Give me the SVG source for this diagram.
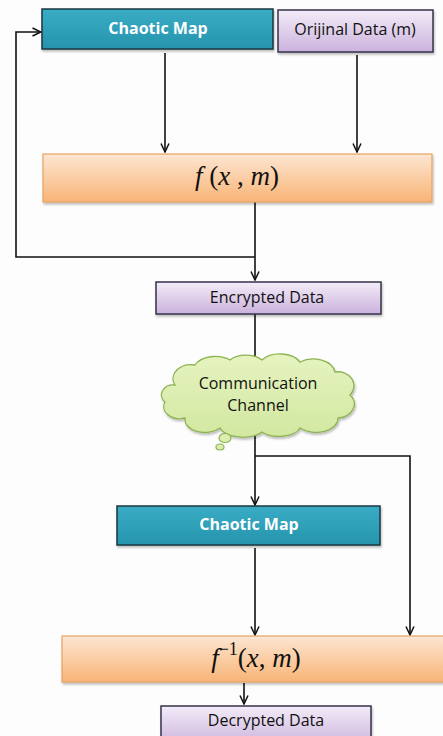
<svg xmlns="http://www.w3.org/2000/svg" width="443" height="736" viewBox="0 0 443 736">
<style>
.lbl{font-family:"Open Sans","Liberation Sans",sans-serif;font-size:16px;text-anchor:middle;dominant-baseline:central;fill:#111}
.w{fill:#fff;font-weight:bold}
.math{font-family:"Liberation Serif","DejaVu Serif",serif;font-size:27px;text-anchor:middle;dominant-baseline:central;fill:#111}
.conn{fill:none;stroke:#111;stroke-width:1.6}
.teal{fill:url(#gTeal);stroke:#1d3640;stroke-width:1.5;filter:url(#sh)}
.lav{fill:url(#gLav);stroke:#35334a;stroke-width:1.5;filter:url(#sh)}
.org{fill:url(#gOrg);stroke:#e5a262;stroke-width:1.2;filter:url(#sh)}
</style>
<defs>
<linearGradient id="gTeal" x1="0" y1="0" x2="0" y2="1"><stop offset="0" stop-color="#3aacc5"/><stop offset="1" stop-color="#2694ad"/></linearGradient>
<linearGradient id="gLav" x1="0" y1="0" x2="0" y2="1"><stop offset="0" stop-color="#f3ecf8"/><stop offset="1" stop-color="#cbb2dd"/></linearGradient>
<linearGradient id="gOrg" x1="0" y1="0" x2="0" y2="1"><stop offset="0" stop-color="#fde6d2"/><stop offset="1" stop-color="#f8b476"/></linearGradient>
<linearGradient id="gCloud" x1="0" y1="0" x2="0" y2="1"><stop offset="0" stop-color="#e6f3c0"/><stop offset="1" stop-color="#d2e8a0"/></linearGradient>
<filter id="sh" x="-5%" y="-20%" width="110%" height="150%"><feDropShadow dx="1" dy="2" stdDeviation="1.2" flood-color="#000" flood-opacity="0.25"/></filter>
<marker id="arr" viewBox="0 0 10 10" refX="9.5" refY="5" markerWidth="10" markerHeight="10" orient="auto" markerUnits="userSpaceOnUse"><path d="M1,1 L9.5,5 L1,9" fill="none" stroke="#111" stroke-width="1.5"/></marker>
</defs>
<rect width="443" height="736" fill="#fdfdfd"/>
<g id="connectors">
<path class="conn" d="M165,53 V152" marker-end="url(#arr)"/>
<path class="conn" d="M357,55 V152" marker-end="url(#arr)"/>
<path class="conn" d="M255,202 V280" marker-end="url(#arr)"/>
<path class="conn" d="M255,257 H16 V32 H41" marker-end="url(#arr)"/>
<path class="conn" d="M255,314 V365"/>
<path class="conn" d="M255,430 V505" marker-end="url(#arr)"/>
<path class="conn" d="M255,456 H410 V635" marker-end="url(#arr)"/>
<path class="conn" d="M255,548 V635" marker-end="url(#arr)"/>
<path class="conn" d="M244,683 V704" marker-end="url(#arr)"/>
</g>
<g id="chaotic1"><rect class="teal" x="42" y="9" width="231" height="40"/><text class="lbl w" x="158" y="28">Chaotic Map</text></g>
<g id="orijinal"><rect class="lav" x="278" y="10" width="155" height="42"/><text class="lbl" x="355" y="29">Orijinal Data (m)</text></g>
<g id="fxm"><rect class="org" x="43" y="154" width="389" height="48"/><text class="math" x="237" y="176"><tspan font-style="italic">f</tspan> (<tspan font-style="italic">x</tspan> , <tspan font-style="italic">m</tspan>)</text></g>
<g id="encrypted"><rect class="lav" x="156" y="282" width="225" height="32"/><text class="lbl" x="267" y="297">Encrypted Data</text></g>
<g id="cloud">
<path d="M175,385 A18,14 0 0 1 195,365 A22,14 0 0 1 230,360 A20,12 0 0 1 262,360 A22,14 0 0 1 300,362 A22,15 0 0 1 335,372 A16,14 0 0 1 350,395 A18,14 0 0 1 338,418 A22,14 0 0 1 300,428 A22,12 0 0 1 262,432 A24,13 0 0 1 220,428 A20,13 0 0 1 185,418 A16,12 0 0 1 165,402 A12,10 0 0 1 175,385 Z" fill="url(#gCloud)" stroke="#8db352" stroke-width="1.3" filter="url(#sh)"/>
<ellipse cx="225" cy="438" rx="6" ry="4.5" fill="#dcedb0" stroke="#8db352" stroke-width="1.2"/>
<ellipse cx="220" cy="447" rx="4" ry="3" fill="#dcedb0" stroke="#8db352" stroke-width="1.2"/>
<text class="lbl" x="258" y="383" font-size="14.5">Communication</text>
<text class="lbl" x="258" y="405" font-size="14.5">Channel</text>
</g>
<g id="chaotic2"><rect class="teal" x="117" y="506" width="263" height="39"/><text class="lbl w" x="249" y="524">Chaotic Map</text></g>
<g id="finv"><rect class="org" x="62" y="636" width="390" height="46"/><text class="math" x="256" y="658" font-size="29"><tspan font-style="italic">f</tspan><tspan font-size="18" dy="-9">−1</tspan><tspan dy="9">(</tspan><tspan font-style="italic">x</tspan>, <tspan font-style="italic">m</tspan>)</text></g>
<g id="decrypted"><rect class="lav" x="161" y="706" width="210" height="40"/><text class="lbl" x="266" y="720">Decrypted Data</text></g>
</svg>
